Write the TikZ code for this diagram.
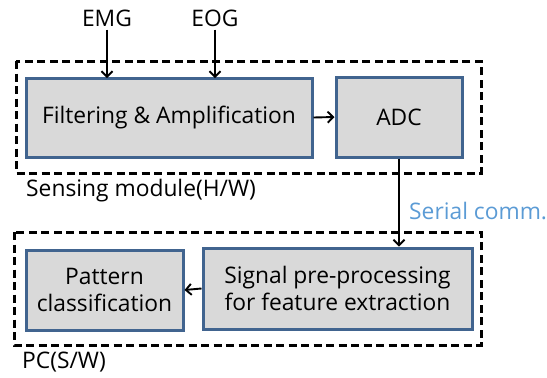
\documentclass[tikz,border=0pt]{standalone}
\usepackage{fontspec}
\setmainfont{Open Sans}
\usetikzlibrary{arrows.meta}
\definecolor{boxfill}{HTML}{D9D9D9}
\definecolor{boxline}{HTML}{41648F}
\definecolor{commblue}{HTML}{5B9BD5}
\tikzset{
  blockbox/.style={draw=boxline, fill=boxfill, line width=3pt, inner sep=0pt,
    align=center, font=\fontsize{22.8}{26.5}\selectfont},
  groupbox/.style={draw=black, line width=3pt, dash pattern=on 8pt off 4.5pt},
  lbl/.style={font=\fontsize{22.8}{26.5}\selectfont, inner sep=0pt},
  flow/.style={-{Straight Barb[length=5.5pt,width=11pt]}, line width=1.9pt},
}
\begin{document}
\begin{tikzpicture}[x=1pt,y=-1pt]
\useasboundingbox (0,0) rectangle (547,378);
% dashed module frames
\draw[groupbox] (16,61) rectangle (481,173);
\draw[groupbox] (14,232) rectangle (481,345);
% hardware blocks
\node[blockbox, minimum width=286pt, minimum height=79pt] (filt) at (169,117.5) {Filtering \& Amplification};
\node[blockbox, minimum width=126pt, minimum height=80pt] (adc) at (399,117) {ADC};
% software blocks
\node[blockbox, minimum width=157pt, minimum height=80pt] (pat) at (104.5,290) {Pattern\\classification};
\node[blockbox, minimum width=269pt, minimum height=81pt] (sig) at (337.5,288.5) {Signal pre-processing\\for feature extraction};
% input labels
\node[lbl] (emg) at (107,18) {EMG};
\node[lbl] (eog) at (215,18) {EOG};
\coordinate (emgin) at (107,78);
\coordinate (eogin) at (215,78);
% frame captions
\node[lbl, anchor=west] (hw) at (26,191) {Sensing module(H/W)};
\node[lbl, anchor=west] (sw) at (22,362) {PC(S/W)};
\node[lbl, anchor=west, text=commblue] (comm) at (409,211) {Serial comm.};
% connectors
\draw[flow] (emg.south) ++(0,3) -- (emgin);
\draw[flow] (eog.south) ++(0,3) -- (eogin);
\draw[flow] (filt.east) -- (adc.west);
\draw[flow] (adc.south) -- (sig.north -| adc.south);
\draw[flow] (sig.west) -- (pat.east);
\end{tikzpicture}
\end{document}
